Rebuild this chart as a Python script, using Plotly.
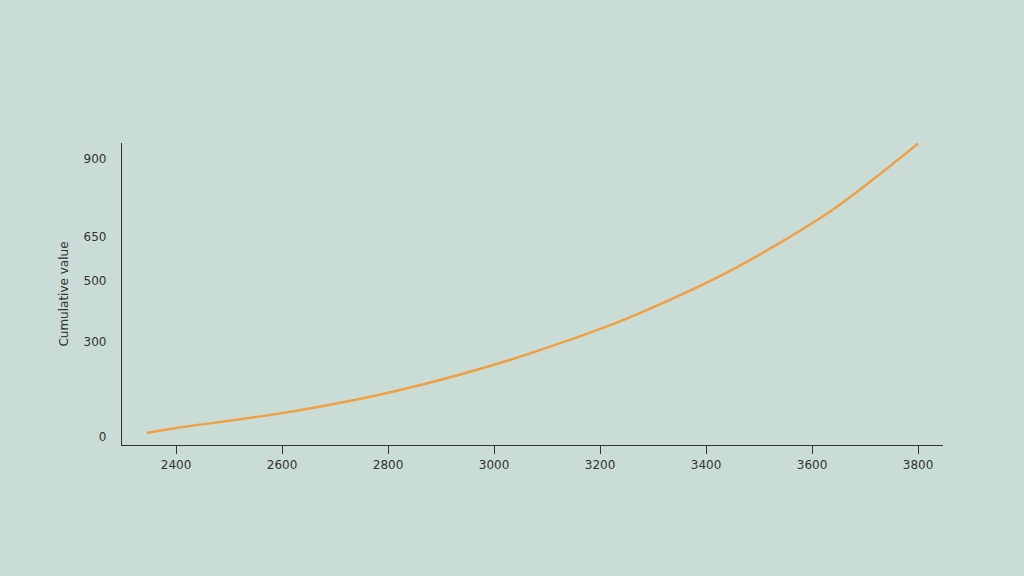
import plotly.graph_objects as go

# data
x_vals = [2345, 2400, 2600, 2813, 3028, 3242, 3440, 3632, 3800]
y_vals = [13, 29, 77, 148, 248, 377, 532, 726, 948]

x_tickvals = [2400, 2600, 2800, 3000, 3200, 3400, 3600, 3800]
x_ticktext = ["2400", "2600", "2800", "3000", "3200", "3400", "3600", "3800"]
y_tickvals = [0, 306, 506, 648, 900]
y_ticktext = ["0", "300", "500", "650", "900"]
y_title = "Cumulative value"

bg = "#c9ddd6"

fig = go.Figure()
fig.add_trace(go.Scatter(
    x=x_vals, y=y_vals, mode="lines",
    line=dict(color="#f0a042", width=2.5, shape="spline", smoothing=0.8),
    hoverinfo="skip", showlegend=False,
))

fig.update_layout(
    width=1024, height=576,
    paper_bgcolor=bg, plot_bgcolor=bg,
    margin=dict(l=122, r=81, t=143, b=131),
    font=dict(family="DejaVu Sans, sans-serif", size=12, color="#333333"),
    xaxis=dict(
        range=[2298, 3847], tickvals=x_tickvals, ticktext=x_ticktext,
        showgrid=False, zeroline=False, showline=True, linecolor="#333333", linewidth=1.2,
        ticks="outside", ticklen=8, tickcolor="#333333", tickwidth=1,
        tickfont=dict(size=12, color="#333333"),
    ),
    yaxis=dict(
        range=[-26, 950], tickvals=y_tickvals, ticktext=y_ticktext,
        showgrid=False, zeroline=False, showline=True, linecolor="#333333", linewidth=1.2,
        ticks="", ticklabelstandoff=12,
        tickfont=dict(size=12, color="#333333"),
        title=dict(text=y_title, font=dict(size=12, color="#333333"), standoff=12),
    ),
)

fig.write_html(
    "out.html",
    config={"displayModeBar": False},
    post_script="document.body.style.margin='0';document.body.style.background='" + bg + "';",
)
